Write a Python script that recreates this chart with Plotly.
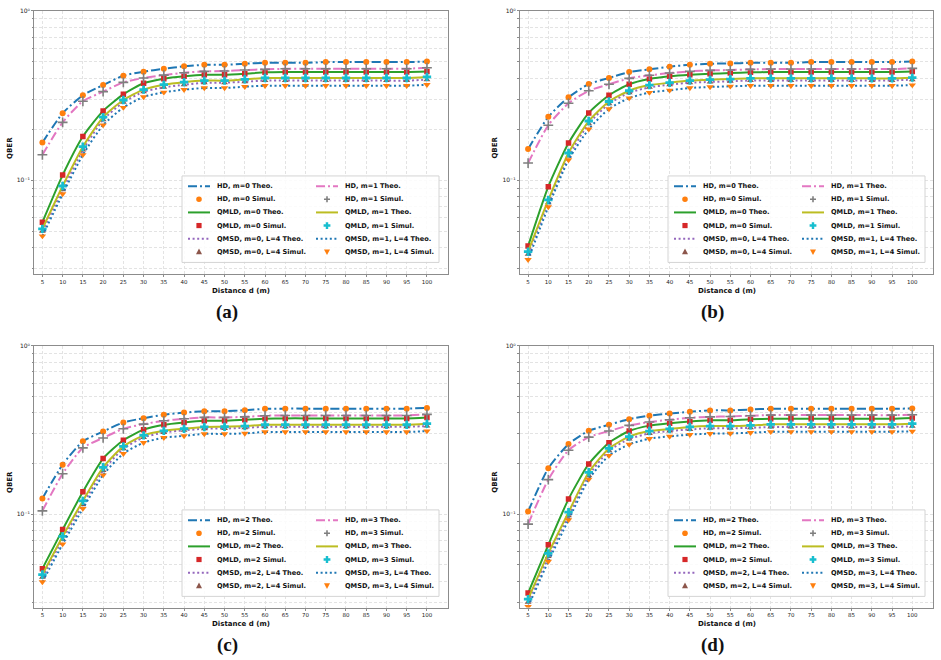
import plotly.graph_objects as go
import math

W, H = 941, 660

distance = [5, 10, 15, 20, 25, 30, 35, 40, 45, 50, 55, 60, 65, 70, 75, 80, 85, 90, 95, 100]
x_tick_labels = [str(d) for d in distance]

# ---------------- panel (a): m=0 / m=1 ----------------
a_hd_m0 = [0.167, 0.249, 0.318, 0.365, 0.415, 0.438, 0.456, 0.471, 0.481, 0.481, 0.488, 0.494, 0.494, 0.494, 0.499, 0.499, 0.499, 0.499, 0.499, 0.503]
a_hd_m1 = [0.1416, 0.220, 0.293, 0.334, 0.379, 0.402, 0.418, 0.432, 0.440, 0.442, 0.448, 0.452, 0.456, 0.456, 0.456, 0.456, 0.456, 0.456, 0.456, 0.462]
a_qmld_m0 = [0.0566, 0.1074, 0.1815, 0.257, 0.322, 0.374, 0.398, 0.411, 0.420, 0.420, 0.426, 0.434, 0.436, 0.436, 0.436, 0.436, 0.436, 0.436, 0.436, 0.439]
a_qmld_m1 = [0.0517, 0.0926, 0.158, 0.236, 0.298, 0.343, 0.367, 0.380, 0.388, 0.388, 0.395, 0.402, 0.402, 0.402, 0.402, 0.402, 0.402, 0.402, 0.402, 0.408]
a_qmsd_m0 = [0.0500, 0.088, 0.151, 0.228, 0.289, 0.333, 0.354, 0.367, 0.377, 0.377, 0.382, 0.388, 0.388, 0.388, 0.388, 0.388, 0.388, 0.388, 0.388, 0.393]
a_qmsd_m1 = [0.0469, 0.0831, 0.1416, 0.212, 0.269, 0.311, 0.331, 0.343, 0.351, 0.351, 0.357, 0.362, 0.362, 0.362, 0.362, 0.362, 0.362, 0.362, 0.362, 0.367]

# ---------------- panel (b): m=0 / m=1 ----------------
b_hd_m0 = [0.153, 0.237, 0.309, 0.370, 0.402, 0.436, 0.452, 0.469, 0.481, 0.488, 0.490, 0.494, 0.494, 0.494, 0.499, 0.499, 0.499, 0.499, 0.499, 0.503]
b_hd_m1 = [0.1265, 0.2115, 0.285, 0.338, 0.369, 0.400, 0.417, 0.430, 0.440, 0.446, 0.448, 0.452, 0.454, 0.454, 0.454, 0.454, 0.454, 0.454, 0.454, 0.458]
b_qmld_m0 = [0.0409, 0.0918, 0.166, 0.250, 0.318, 0.369, 0.396, 0.411, 0.420, 0.426, 0.430, 0.434, 0.436, 0.436, 0.436, 0.436, 0.436, 0.436, 0.436, 0.439]
b_qmld_m1 = [0.0379, 0.0766, 0.145, 0.224, 0.292, 0.338, 0.365, 0.377, 0.388, 0.393, 0.396, 0.400, 0.400, 0.400, 0.400, 0.400, 0.400, 0.400, 0.400, 0.404]
b_qmsd_m0 = [0.0366, 0.0737, 0.139, 0.216, 0.283, 0.329, 0.354, 0.367, 0.377, 0.381, 0.384, 0.389, 0.389, 0.389, 0.389, 0.389, 0.389, 0.389, 0.389, 0.393]
b_qmsd_m1 = [0.0340, 0.0697, 0.132, 0.2005, 0.264, 0.306, 0.330, 0.340, 0.351, 0.356, 0.359, 0.362, 0.362, 0.362, 0.362, 0.362, 0.362, 0.362, 0.362, 0.365]

# ---------------- panel (c): m=2 / m=3 ----------------
c_hd_m2 = [0.124, 0.197, 0.271, 0.310, 0.351, 0.372, 0.390, 0.402, 0.409, 0.409, 0.415, 0.423, 0.424, 0.424, 0.424, 0.424, 0.424, 0.424, 0.424, 0.428]
c_hd_m3 = [0.1047, 0.174, 0.248, 0.284, 0.322, 0.343, 0.359, 0.369, 0.376, 0.376, 0.379, 0.385, 0.386, 0.386, 0.386, 0.386, 0.386, 0.386, 0.386, 0.392]
c_qmld_m2 = [0.0475, 0.081, 0.136, 0.214, 0.275, 0.318, 0.340, 0.351, 0.359, 0.359, 0.364, 0.369, 0.371, 0.371, 0.371, 0.371, 0.371, 0.371, 0.371, 0.376]
c_qmld_m3 = [0.0438, 0.0738, 0.120, 0.190, 0.253, 0.294, 0.313, 0.322, 0.330, 0.331, 0.334, 0.340, 0.340, 0.340, 0.340, 0.340, 0.340, 0.340, 0.340, 0.345]
c_qmsd_m2 = [0.0422, 0.071, 0.114, 0.182, 0.245, 0.286, 0.306, 0.315, 0.322, 0.323, 0.326, 0.331, 0.331, 0.331, 0.331, 0.331, 0.331, 0.331, 0.331, 0.334]
c_qmsd_m3 = [0.0396, 0.0665, 0.108, 0.171, 0.229, 0.266, 0.285, 0.292, 0.300, 0.300, 0.302, 0.308, 0.308, 0.308, 0.308, 0.308, 0.308, 0.308, 0.308, 0.312]

# ---------------- panel (d): m=2 / m=3 ----------------
d_hd_m2 = [0.1037, 0.1875, 0.261, 0.313, 0.340, 0.367, 0.385, 0.397, 0.406, 0.414, 0.414, 0.419, 0.423, 0.423, 0.423, 0.423, 0.423, 0.423, 0.423, 0.425]
d_hd_m3 = [0.0873, 0.1605, 0.240, 0.287, 0.312, 0.337, 0.353, 0.364, 0.374, 0.379, 0.381, 0.385, 0.388, 0.388, 0.388, 0.388, 0.388, 0.388, 0.388, 0.390]
d_qmld_m2 = [0.0340, 0.0658, 0.123, 0.199, 0.266, 0.312, 0.336, 0.347, 0.356, 0.362, 0.362, 0.367, 0.369, 0.369, 0.369, 0.369, 0.369, 0.369, 0.369, 0.373]
d_qmld_m3 = [0.0313, 0.0585, 0.1028, 0.1775, 0.246, 0.289, 0.312, 0.321, 0.330, 0.334, 0.334, 0.337, 0.342, 0.342, 0.342, 0.342, 0.342, 0.342, 0.342, 0.345]
d_qmsd_m2 = [0.0300, 0.056, 0.098, 0.170, 0.238, 0.280, 0.302, 0.312, 0.319, 0.324, 0.324, 0.326, 0.330, 0.330, 0.330, 0.330, 0.330, 0.330, 0.330, 0.333]
d_qmsd_m3 = [0.0282, 0.0524, 0.0925, 0.1613, 0.223, 0.260, 0.281, 0.290, 0.297, 0.301, 0.302, 0.305, 0.309, 0.309, 0.309, 0.309, 0.309, 0.309, 0.309, 0.311]

y_tick_values = [0.1, 1.0]
y_tick_labels = ["10⁻¹", "10⁰"]

panel_m = [(0, 1), (0, 1), (2, 3), (2, 3)]
panel_captions = ["(a)", "(b)", "(c)", "(d)"]
panel_data = [
    [a_hd_m0, a_qmld_m0, a_qmsd_m0, a_hd_m1, a_qmld_m1, a_qmsd_m1],
    [b_hd_m0, b_qmld_m0, b_qmsd_m0, b_hd_m1, b_qmld_m1, b_qmsd_m1],
    [c_hd_m2, c_qmld_m2, c_qmsd_m2, c_hd_m3, c_qmld_m3, c_qmsd_m3],
    [d_hd_m2, d_qmld_m2, d_qmsd_m2, d_hd_m3, d_qmld_m3, d_qmsd_m3],
]

# ---------------- styles ----------------
DASHDOT = "9px,3px,2px,3px"
DOTTED = "2px,2.6px"
# (method, line color, dash, marker color, symbol, marker size, legend shape kind)
styles = [
    ("HD", "#1f77b4", DASHDOT, "#ff7f0e", "circle", 6, "circle"),
    ("QMLD", "#2ca02c", "solid", "#d62728", "square", 5.5, "square"),
    ("QMSD", "#9467bd", DOTTED, "#8c564b", "triangle-up", 6, "tri_up"),
    ("HD", "#e377c2", DASHDOT, "#7f7f7f", "cross-thin", 7, "plus"),
    ("QMLD", "#bcbd22", "solid", "#17becf", "cross", 7, "cross"),
    ("QMSD", "#1f77b4", DOTTED, "#ff7f0e", "triangle-down", 6.5, "tri_down"),
]

# panel geometry in pixels: (left, right, top, bottom)
panels_px = [
    (34.3, 448.0, 7.0, 272.0),
    (520.0, 933.3, 7.0, 272.0),
    (34.3, 448.0, 344.0, 607.3),
    (520.0, 933.3, 344.0, 607.3),
]
legend_px = [
    (182, 173, 439, 260),
    (668, 173, 925, 260),
    (182, 509, 439, 596),
    (668, 509, 925, 596),
]


def px(x):
    return x / W


def py(y):
    return 1 - y / H


FONT = "DejaVu Sans"
fig = go.Figure()
shapes = []
annotations = []

y_minor = [v * 0.01 for v in range(3, 10)] + [v * 0.1 for v in range(2, 10)]
grid_col = "#e3e3e3"

for p in range(4):
    suffix = "" if p == 0 else str(p + 1)
    xa, ya = "x" + suffix, "y" + suffix
    mA, mB = panel_m[p]
    for s, (method, lcol, dash, mcol, sym, msz, kind) in enumerate(styles):
        vals = panel_data[p][s]
        m = mA if s < 3 else mB
        fig.add_trace(go.Scatter(
            x=distance, y=vals, mode="lines", xaxis=xa, yaxis=ya,
            line=dict(color=lcol, width=2, dash=dash, shape="spline", smoothing=0.6),
            name=f"{method}, m={m} Theo.", showlegend=False, hoverinfo="skip"))
        mk = dict(color=mcol, size=msz, symbol=sym)
        if sym == "cross-thin":
            mk["line"] = dict(color=mcol, width=1.6)
        fig.add_trace(go.Scatter(
            x=distance, y=vals, mode="markers", xaxis=xa, yaxis=ya,
            marker=mk, name=f"{method}, m={m} Simul.", showlegend=False))

    l, r, t, b = panels_px[p]
    axis_common = dict(showline=True, linecolor="#8c8c8c", linewidth=1.2, mirror=True,
                       ticks="outside", tickcolor="#8c8c8c", ticklen=2, tickwidth=1,
                       gridcolor=grid_col, griddash="3px,2px", gridwidth=0.8,
                       zeroline=False)
    fig.layout["xaxis" + suffix] = dict(
        domain=[px(l), px(r)], anchor=ya, range=[3.0, 105.2],
        tickvals=distance, ticktext=x_tick_labels,
        tickfont=dict(family=FONT, size=5.5, color="#222"),
        **axis_common)
    fig.layout["yaxis" + suffix] = dict(
        domain=[py(b), py(t)], anchor=xa, type="log", range=[-1.555, 0.0],
        tickvals=y_tick_values, ticktext=y_tick_labels,
        tickfont=dict(family=FONT, size=6, color="#222"),
        minor=dict(tickvals=y_minor, ticks="outside", ticklen=1.5, tickcolor="#8c8c8c",
                   showgrid=True, gridcolor=grid_col, griddash="3px,2px", gridwidth=0.8),
        **axis_common)

    # axis titles and caption
    annotations.append(dict(x=px((l + r) / 2), y=py(b + 16.5), xref="paper", yref="paper",
                            text="<b>Distance d (m)</b>", showarrow=False,
                            font=dict(family=FONT, size=7, color="#111"),
                            xanchor="center", yanchor="middle"))
    annotations.append(dict(x=px(l - 25), y=py((t + b) / 2 + 5), xref="paper", yref="paper",
                            text="<b>QBER</b>", showarrow=False, textangle=-90,
                            font=dict(family=FONT, size=7, color="#111"),
                            xanchor="center", yanchor="middle"))
    annotations.append(dict(x=px((l + r) / 2 - 14), y=py(b + 38), xref="paper", yref="paper",
                            text="<b>" + panel_captions[p] + "</b>", showarrow=False,
                            font=dict(family="Liberation Serif", size=19, color="#111"),
                            xanchor="center", yanchor="middle"))

    # ------- custom legend -------
    bx0, by0, bx1, by1 = legend_px[p]
    shapes.append(dict(type="rect", xref="paper", yref="paper",
                       x0=px(bx0), x1=px(bx1), y0=py(by1), y1=py(by0),
                       fillcolor="rgba(255,255,255,0.85)", line=dict(color="#d4d4d4", width=1),
                       layer="above"))
    for s, (method, lcol, dash, mcol, sym, msz, kind) in enumerate(styles):
        col = 0 if s < 3 else 1
        m = mA if s < 3 else mB
        colx = bx0 + (0 if col == 0 else 128)
        for k, label_kind in enumerate(["Theo.", "Simul."]):
            row = (s % 3) * 2 + k
            yy = by0 + 10.3 + row * 13.2
            if method == "QMSD":
                label = f"QMSD, m={m}, L=4 {label_kind}"
            else:
                label = f"{method}, m={m} {label_kind}"
            annotations.append(dict(x=px(colx + 33), y=py(yy), xref="paper", yref="paper",
                                    text="<b>" + label + "</b>", showarrow=False,
                                    font=dict(family=FONT, size=6.6, color="#111"),
                                    xanchor="left", yanchor="middle"))
            if k == 0:
                shapes.append(dict(type="line", xref="paper", yref="paper",
                                   x0=px(colx + 6), x1=px(colx + 28), y0=py(yy), y1=py(yy),
                                   line=dict(color=lcol, width=2, dash=dash), layer="above"))
            else:
                cx, cy = px(colx + 17), py(yy)
                base = dict(xref="paper", yref="paper", xsizemode="pixel", ysizemode="pixel",
                            xanchor=cx, yanchor=cy, layer="above")
                if kind == "circle":
                    shapes.append(dict(type="circle", x0=-2.8, x1=2.8, y0=-2.8, y1=2.8,
                                       fillcolor=mcol, line=dict(width=0), **base))
                elif kind == "square":
                    shapes.append(dict(type="rect", x0=-2.6, x1=2.6, y0=-2.6, y1=2.6,
                                       fillcolor=mcol, line=dict(width=0), **base))
                elif kind == "tri_up":
                    shapes.append(dict(type="path", path="M0,3.2 L3,-2.4 L-3,-2.4 Z",
                                       fillcolor=mcol, line=dict(width=0), **base))
                elif kind == "tri_down":
                    shapes.append(dict(type="path", path="M0,-3.2 L3,2.4 L-3,2.4 Z",
                                       fillcolor=mcol, line=dict(width=0), **base))
                elif kind == "plus":
                    shapes.append(dict(type="path", path="M-3,0 L3,0 M0,-3 L0,3",
                                       line=dict(color=mcol, width=1.6), **base))
                elif kind == "cross":
                    shapes.append(dict(type="path",
                                       path="M-1.2,-3.4 L1.2,-3.4 L1.2,-1.2 L3.4,-1.2 L3.4,1.2 L1.2,1.2 "
                                            "L1.2,3.4 L-1.2,3.4 L-1.2,1.2 L-3.4,1.2 L-3.4,-1.2 L-1.2,-1.2 Z",
                                       fillcolor=mcol, line=dict(width=0), **base))

fig.update_layout(
    width=W, height=H, margin=dict(l=0, r=0, t=0, b=0),
    paper_bgcolor="white", plot_bgcolor="white",
    showlegend=False, shapes=shapes, annotations=annotations,
)

fig.write_html("out.html")
